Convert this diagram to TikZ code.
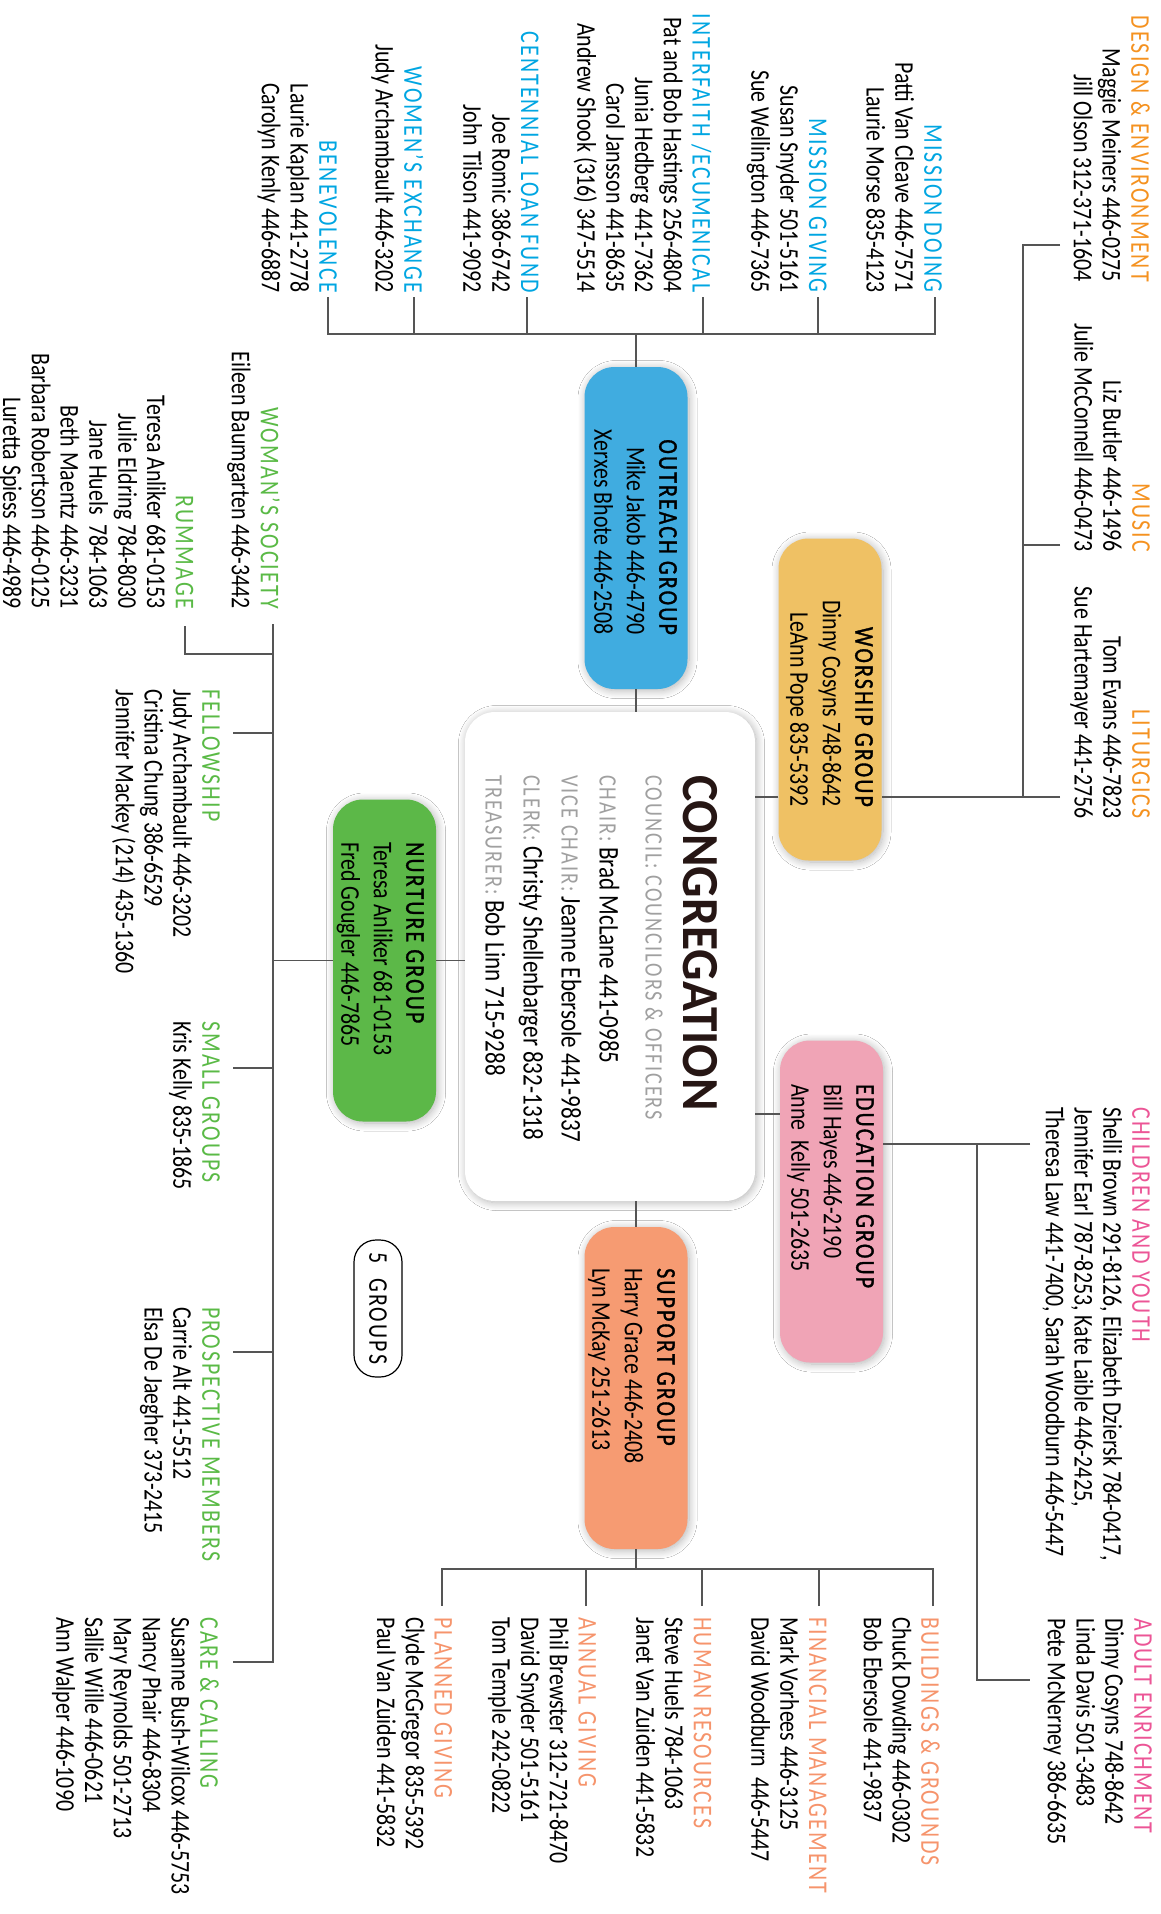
\documentclass[tikz,border=0pt]{standalone}
\usepackage{fontspec}
\setmainfont[FakeStretch=0.81]{Carlito}
\newfontfamily\headfont[FakeStretch=0.81,LetterSpace=8]{Carlito}
\newfontfamily\groupfont[FakeStretch=0.81,LetterSpace=8,FakeBold=1.2]{Carlito}
\newfontfamily\titlefont[FakeStretch=0.95]{Carlito}
\usetikzlibrary{shadows.blur}

\definecolor{outHead}{RGB}{0,166,226}
\definecolor{worHead}{RGB}{245,146,32}
\definecolor{eduHead}{RGB}{236,85,150}
\definecolor{supHead}{RGB}{246,148,108}
\definecolor{nurHead}{RGB}{90,186,70}
\definecolor{outFill}{RGB}{64,172,224}
\definecolor{worFill}{RGB}{239,193,100}
\definecolor{eduFill}{RGB}{240,164,182}
\definecolor{supFill}{RGB}{246,155,114}
\definecolor{nurFill}{RGB}{92,184,72}
\definecolor{linkGray}{RGB}{85,85,85}
\definecolor{labelGray}{RGB}{160,160,160}
\definecolor{titleBrown}{RGB}{38,22,20}

\newcommand{\namefont}{\fontsize{27pt}{28.8pt}\selectfont}
\newcommand{\boxfont}{\fontsize{27pt}{32.5pt}\selectfont}
\newcommand{\hd}[2]{{\headfont\color{#1}#2}}
\newcommand{\gh}[1]{{\groupfont #1}}
\newcommand{\lbl}[1]{{\headfont\color{labelGray}\fontsize{25pt}{38pt}\selectfont #1}}

\begin{document}
\begin{tikzpicture}[x=1pt, y=1pt, rotate=-90, transform shape,
    leftList/.style={anchor=north west, align=left, inner sep=0pt, font=\namefont},
    rightList/.style={anchor=north east, align=right, inner sep=0pt, font=\namefont},
    groupBox/.style={rectangle, rounded corners=30pt, minimum width=322pt, minimum height=103pt, inner sep=0pt,
        blur shadow={shadow blur steps=10, shadow xshift=1.5pt, shadow yshift=-1.5pt, shadow blur radius=8pt, shadow opacity=30}},
    boxText/.style={inner sep=0pt, font=\boxfont},
    tagBox/.style={draw=black, line width=1.2pt, rounded corners=22pt, minimum width=137pt, minimum height=48pt, inner sep=0pt, font=\namefont\headfont},
    link/.style={draw=linkGray, line width=1.8pt}]

    \path[use as bounding box, fill=white] (0,0) rectangle (1914,1161);

    % group boxes
    \node[groupBox, fill=white, minimum width=489pt, minimum height=290pt] (congregation) at (956.5,610) {};
    \node[groupBox, fill=outFill] (outreach)  at (528,636) {};
    \node[groupBox, fill=worFill] (worship)   at (699.5,830) {};
    \node[groupBox, fill=eduFill] (education) at (1201.5,831.5) {};
    \node[groupBox, fill=supFill] (support)   at (1388,636) {};
    \node[groupBox, fill=nurFill] (nurture)   at (960.5,384.5) {};

    \node[anchor=north west, align=left, inner sep=0pt, font=\fontsize{28.5pt}{38pt}\selectfont] (councilList) at (775,718)
        {{\titlefont\bfseries\color{titleBrown}\fontsize{52pt}{52pt}\selectfont CONGREGATION}\\
         \lbl{COUNCIL: COUNCILORS \& OFFICERS}\\[8pt]
         \lbl{CHAIR:} Brad McLane 441-0985\\
         \lbl{VICE CHAIR:} Jeanne Ebersole 441-9837\\
         \lbl{CLERK:} Christy Shellenbarger 832-1318\\
         \lbl{TREASURER:} Bob Linn 715-9288};

    \node[boxText, anchor=north east, align=right] (outreachText) at (635,677) {\gh{OUTREACH GROUP}\\Mike Jakob 446-4790\\Xerxes Bhote 446-2508};
    \node[boxText, anchor=north east, align=right] (worshipText) at (807,873) {\gh{WORSHIP GROUP}\\Dinny Cosyns 748-8642\\LeAnn Pope 835-5392};
    \node[boxText, anchor=north west, align=left] (educationText) at (1084,874) {\gh{EDUCATION GROUP}\\Bill Hayes 446-2190\\Anne\ \ Kelly 501-2635};
    \node[boxText, anchor=north west, align=left] (supportText) at (1268,675) {\gh{SUPPORT GROUP}\\Harry Grace 446-2408\\Lyn McKay 251-2613};
    \node[boxText, anchor=north west, align=left] (nurtureText) at (842,424) {\gh{NURTURE GROUP}\\Teresa Anliker 681-0153\\Fred Gougler 446-7865};

    \node[tagBox] (groupCount) at (1308.5,378) {5\ \ GROUPS};

    % worship
    \node[rightList] (design) at (282,1150) {\hd{worHead}{DESIGN \& ENVIRONMENT}\\Maggie Meiners 446-0275\\Jill Olson 312-371-1604};
    \node[rightList] (music) at (552,1150) {\hd{worHead}{MUSIC}\\Liz Butler 446-1496\\Julie McConnell 446-0473};
    \node[rightList] (liturgics) at (819,1150) {\hd{worHead}{LITURGICS}\\Tom Evans 446-7823\\Sue Hartemayer 441-2756};

    % education
    \node[leftList] (children) at (1107,1150) {\hd{eduHead}{CHILDREN AND YOUTH}\\Shelli Brown 291-8126, Elizabeth Dziersk 784-0417,\\Jennifer Earl 787-8253, Kate Laible 446-2425,\\Theresa Law 441-7400, Sarah Woodburn 446-5447};
    \node[leftList] (adult) at (1618,1152) {\hd{eduHead}{ADULT ENRICHMENT}\\Dinny Cosyns 748-8642\\Linda Davis 501-3483\\Pete McNerney 386-6635};

    % outreach
    \node[rightList] (missionDoing) at (293,942) {\hd{outHead}{MISSION DOING}\\Patti Van Cleave 446-7571\\Laurie Morse 835-4123};
    \node[rightList] (missionGiving) at (293,826.8) {\hd{outHead}{MISSION GIVING}\\Susan Snyder 501-5161\\Sue Wellington 446-7365};
    \node[rightList] (interfaith) at (293,711.6) {\hd{outHead}{INTERFAITH /ECUMENICAL}\\Pat and Bob Hastings 256-4804\\Junia Hedberg 441-7362\\Carol Jansson 441-8635\\Andrew Shook (316) 347-5514};
    \node[rightList] (centennial) at (293,538.8) {\hd{outHead}{CENTENNIAL LOAN FUND}\\Joe Romic 386-6742\\John Tilson 441-9092};
    \node[rightList] (womensExchange) at (293,423.6) {\hd{outHead}{WOMEN’S EXCHANGE}\\Judy Archambault 446-3202};
    \node[rightList] (benevolence) at (293,337.2) {\hd{outHead}{BENEVOLENCE}\\Laurie Kaplan 441-2778\\Carolyn Kenly 446-6887};

    % support
    \node[leftList] (buildings) at (1617,940) {\hd{supHead}{BUILDINGS \& GROUNDS}\\Chuck Dowding 446-0302\\Bob Ebersole 441-9837};
    \node[leftList] (financial) at (1617,826.8) {\hd{supHead}{FINANCIAL MANAGEMENT}\\Mark Vorhees 446-3125\\David Woodburn\ \ 446-5447};
    \node[leftList] (human) at (1617,711.6) {\hd{supHead}{HUMAN RESOURCES}\\Steve Huels 784-1063\\Janet Van Zuiden 441-5832};
    \node[leftList] (annual) at (1617,596.4) {\hd{supHead}{ANNUAL GIVING}\\Phil Brewster 312-721-8470\\David Snyder 501-5161\\Tom Temple 242-0822};
    \node[leftList] (planned) at (1617,452.4) {\hd{supHead}{PLANNED GIVING}\\Clyde McGregor 835-5392\\Paul Van Zuiden 441-5832};

    % nurture
    \node[rightList] (womansSociety) at (609,280) {\hd{nurHead}{WOMAN’S SOCIETY}\\Eileen Baumgarten 446-3442};
    \node[rightList] (rummage) at (609,193.6) {\hd{nurHead}{RUMMAGE}\\Teresa Anliker 681-0153\\Julie Eldring 784-8030\\Jane Huels\ \ 784-1063\\Beth Maentz 446-3231\\Barbara Robertson 446-0125\\Luretta Spiess 446-4989};
    \node[leftList] (fellowship) at (689,220) {\hd{nurHead}{FELLOWSHIP}\\Judy Archambault 446-3202\\Cristina Chung 386-6529\\Jennifer Mackey (214) 435-1360};
    \node[leftList] (smallGroups) at (1021,220) {\hd{nurHead}{SMALL GROUPS}\\Kris Kelly 835-1865};
    \node[leftList] (prospective) at (1307,220) {\hd{nurHead}{PROSPECTIVE MEMBERS}\\Carrie Alt 441-5512\\Elsa De Jaegher 373-2415};
    \node[leftList] (care) at (1617,219) {\hd{nurHead}{CARE \& CALLING}\\Susanne Bush-Wilcox 446-5753\\Nancy Phair 446-8304\\Mary Reynolds 501-2713\\Sallie Wille 446-0621\\Ann Walper 446-1090};

    % connectors
    \coordinate (designTip) at (245,1060);
    \coordinate (musicTip) at (545,1060);
    \coordinate (litTip) at (797,1060);
    \coordinate (worJoin) at (797,1023);
    \draw[link] (designTip) -- (designTip |- worJoin) -- (worJoin);
    \draw[link] (musicTip) -- (musicTip |- worJoin);
    \draw[link] (litTip) -- (litTip |- worship.north);
    \draw[link] (litTip |- worship.south) -- (litTip |- congregation.north);

    \coordinate (childTip) at (1144,1030);
    \coordinate (adultTip) at (1680,1030);
    \coordinate (eduJoin) at (1144,977);
    \coordinate (eduLink) at (1114,766);
    \draw[link] (childTip) -- (childTip |- education.north);
    \draw[link] (eduJoin) -- (adultTip |- eduJoin) -- (adultTip);
    \draw[link] (eduLink |- education.south) -- (eduLink |- congregation.north);

    \coordinate (outJoin) at (334,636);
    \coordinate (mdTip) at (297,935);
    \coordinate (mgTip) at (297,818);
    \coordinate (ifTip) at (297,703);
    \coordinate (clfTip) at (297,527);
    \coordinate (weTip) at (297,414);
    \coordinate (benTip) at (297,328);
    \draw[link] (mdTip) -- (mdTip -| outJoin) -- (benTip -| outJoin) -- (benTip);
    \foreach \tip in {mgTip, ifTip, clfTip, weTip}
        \draw[link] (\tip) -- (\tip -| outJoin);
    \draw[link] (outreach.west) -- (outJoin);
    \draw[link] (outreach.east) -- (outreach.east -| congregation.west);

    \coordinate (supJoin) at (1569,636);
    \coordinate (bgTip) at (1606,933);
    \coordinate (fmTip) at (1606,819);
    \coordinate (hrTip) at (1606,702);
    \coordinate (agTip) at (1606,586);
    \coordinate (pgTip) at (1606,442);
    \draw[link] (bgTip) -- (bgTip -| supJoin) -- (pgTip -| supJoin) -- (pgTip);
    \foreach \tip in {fmTip, hrTip, agTip}
        \draw[link] (\tip) -- (\tip -| supJoin);
    \draw[link] (support.east) -- (supJoin);
    \draw[link] (support.west) -- (support.west -| congregation.east);

    \coordinate (wsTip) at (624,273);
    \coordinate (fsTip) at (733,233);
    \coordinate (sgTip) at (1068,233);
    \coordinate (pmTip) at (1352,233);
    \coordinate (ccTip) at (1662,233);
    \coordinate (rmTip) at (626,185);
    \coordinate (rmBend) at (654,185);
    \draw[link] (wsTip) -- (ccTip |- wsTip) -- (ccTip);
    \foreach \tip in {fsTip, sgTip, pmTip}
        \draw[link] (\tip) -- (\tip |- wsTip);
    \draw[link] (rmTip) -- (rmBend) -- (rmBend |- wsTip);
    \draw[link] (nurture.north) -- (nurture.north |- congregation.south);
    \draw[link] (nurture.south) -- (nurture.south |- wsTip);
\end{tikzpicture}
\end{document}
